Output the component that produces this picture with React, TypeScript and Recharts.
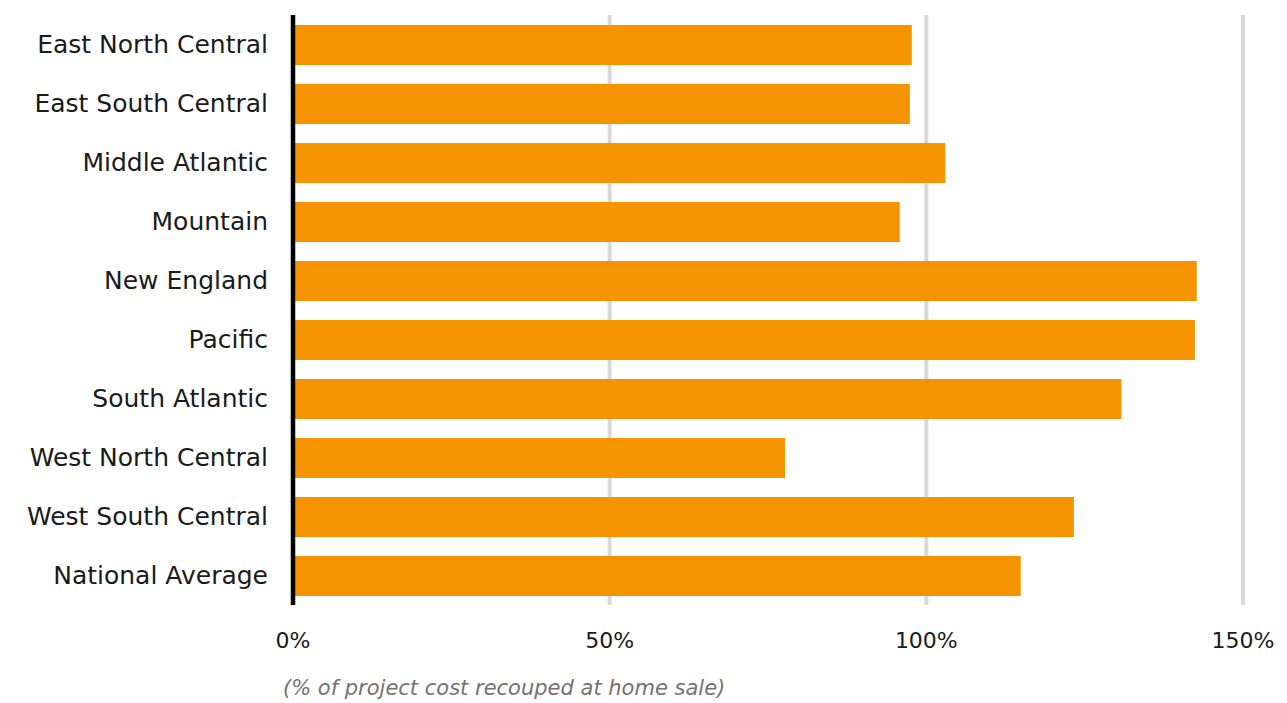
import React from "react";
import { BarChart, Bar, XAxis, YAxis, CartesianGrid, Label } from "recharts";

const regions = [
  "East North Central",
  "East South Central",
  "Middle Atlantic",
  "Mountain",
  "New England",
  "Pacific",
  "South Atlantic",
  "West North Central",
  "West South Central",
  "National Average",
];

const recouped = [97.7, 97.4, 103.0, 95.8, 142.7, 142.4, 130.8, 77.7, 123.3, 114.9];

const xTicks = [0, 50, 100, 150];

const axisTitle = "(% of project cost recouped at home sale)";

const data = regions.map((name, i) => ({ name, value: recouped[i] }));

const FONT = "'DejaVu Sans', sans-serif";

const AxisTitle = (props: any) => {
  const vb = props.viewBox || {};
  return (
    <text
      x={vb.x - 10}
      y={vb.y + 90}
      fill="#767171"
      fontSize={21}
      fontStyle="italic"
      fontFamily={FONT}
      textAnchor="start"
    >
      {axisTitle}
    </text>
  );
};

export default function App() {
  return (
    <div style={{ position: "absolute", left: 0, top: 0, width: 1287, height: 703, background: "#fff" }}>
      <BarChart
        width={1287}
        height={703}
        data={data}
        layout="vertical"
        margin={{ top: 15, right: 44, bottom: 0, left: 0 }}
        barSize={40}
      >
        <CartesianGrid horizontal={false} vertical={true} stroke="#d9d9d9" strokeWidth={4} />
        <XAxis
          type="number"
          domain={[0, 150]}
          ticks={xTicks}
          tickFormatter={(v: number) => `${v}%`}
          axisLine={false}
          tickLine={false}
          tickSize={0}
          tickMargin={27}
          height={98}
          tick={{ fill: "#1a1a1a", fontSize: 22, fontFamily: FONT }}
          interval={0}
        >
          <Label content={<AxisTitle />} />
        </XAxis>
        <YAxis
          type="category"
          dataKey="name"
          width={293}
          axisLine={{ stroke: "#000", strokeWidth: 4.5 }}
          tickLine={false}
          tickSize={0}
          tickMargin={25}
          interval={0}
          tick={{ fill: "#1a1a1a", fontSize: 25, fontFamily: FONT }}
        />
        <Bar dataKey="value" fill="#F59300" isAnimationActive={false} />
      </BarChart>
    </div>
  );
}
